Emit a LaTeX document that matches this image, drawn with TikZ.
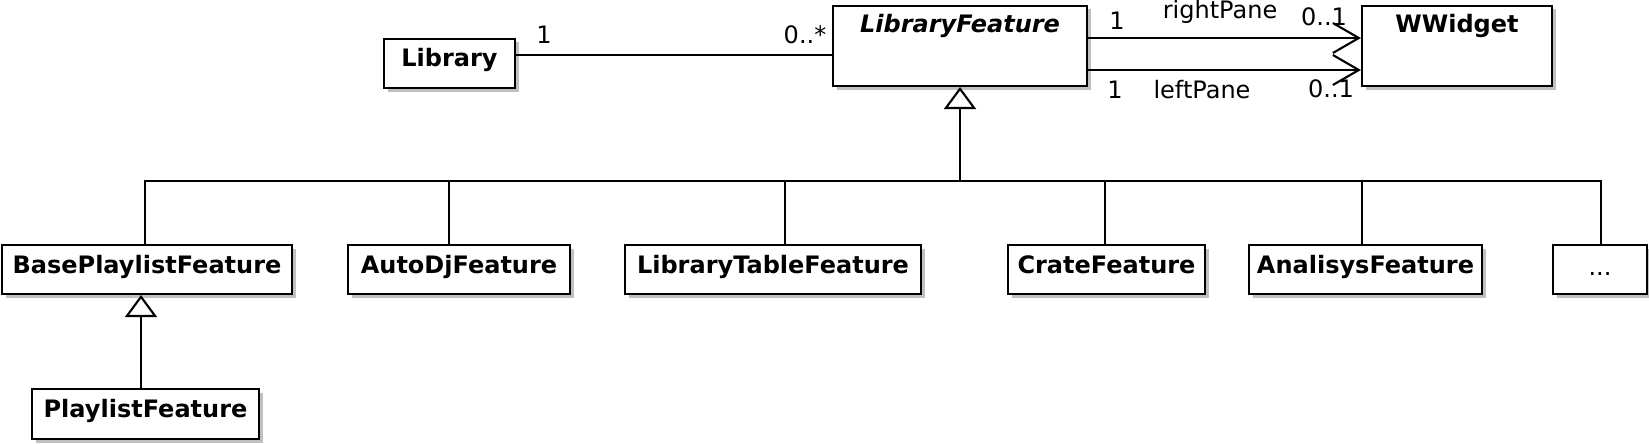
\documentclass[tikz,border=0pt]{standalone}
\usepackage{fontspec}
\setmainfont{DejaVu Sans}
\usetikzlibrary{arrows.meta,shadows,calc}
\begin{document}
\begin{tikzpicture}[x=1pt,y=-1pt,
  cls/.style={draw, line width=2.1pt, fill=white, inner sep=0pt,
    drop shadow={shadow xshift=3.5pt,shadow yshift=-3.5pt,fill=black!45,opacity=0.55}},
  ctext/.style={anchor=base, inner sep=0pt, font=\fontsize{24}{28}\selectfont\bfseries},
  mult/.style={anchor=base, inner sep=0pt, font=\fontsize{24}{28}\selectfont},
  conn/.style={line width=2.1pt},
  gen/.style={line width=2.1pt, -{Triangle[open,length=22pt,width=32pt,fill=white,line width=2.1pt]}},
  nav/.style={line width=2.1pt, -{Straight Barb[length=26pt,width=30pt,line width=2.1pt]}},
]
\useasboundingbox (0,0) rectangle (1649,444);

% classes
\node[cls, minimum width=131pt, minimum height=49pt] (lib) at (449.5,63.5) {};
\node[ctext] (libt) at ($(lib.north)+(0,29)$) {Library};
\node[cls, minimum width=254pt, minimum height=80pt] (lf) at (960,46) {};
\node[ctext] (lft) at ($(lf.north)+(0,28)$) {\itshape LibraryFeature};
\node[cls, minimum width=190pt, minimum height=80pt] (ww) at (1457,46) {};
\node[ctext] (wwt) at ($(ww.north)+(0,28)$) {WWidget};

\node[cls, minimum width=290pt, minimum height=49pt] (bpf) at (147,269.5) {};
\node[ctext] (bpft) at ($(bpf.north)+(0,29.5)$) {BasePlaylistFeature};
\node[cls, minimum width=222pt, minimum height=49pt] (adj) at (459,269.5) {};
\node[ctext] (adjt) at ($(adj.north)+(0,29.5)$) {AutoDjFeature};
\node[cls, minimum width=296pt, minimum height=49pt] (ltf) at (773,269.5) {};
\node[ctext] (ltft) at ($(ltf.north)+(0,29.5)$) {LibraryTableFeature};
\node[cls, minimum width=197pt, minimum height=49pt] (cf) at (1106.5,269.5) {};
\node[ctext] (cft) at ($(cf.north)+(0,29.5)$) {CrateFeature};
\node[cls, minimum width=233pt, minimum height=49pt] (af) at (1365.5,269.5) {};
\node[ctext] (aft) at ($(af.north)+(0,29.5)$) {AnalisysFeature};
\node[cls, minimum width=94pt, minimum height=49pt] (more) at (1600,269.5) {};
\node[mult] (moret) at ($(more.north)+(0,32)$) {...};

\node[cls, minimum width=227pt, minimum height=50pt] (pf) at (145.5,414) {};
\node[ctext] (pft) at ($(pf.north)+(0,29.5)$) {PlaylistFeature};

% association Library -- LibraryFeature
\draw[conn] (lib.east |- 0,55) -- (lf.west |- 0,55);
\node[mult] (m1) at (544,44) {1};
\node[mult] (m2) at (805,44) {0..*};

% navigable associations
\draw[nav] (lf.east |- 0,38) -- (ww.west |- 0,38);
\draw[nav] (lf.east |- 0,70) -- (ww.west |- 0,70);
\node[mult] (r1) at (1117,30) {1};
\node[mult] (rp) at (1220,19) {rightPane};
\node[mult] (r2) at (1324,26) {0..1};
\node[mult] (l1) at (1115,99) {1};
\node[mult] (lp) at (1202,99) {leftPane};
\node[mult] (l2) at (1331,97) {0..1};

% generalization tree
\coordinate (bus) at (960,181);
\draw[gen] (bus) -- (lf.south);
\draw[conn] (bpf.north -| 145,0) -- (145,181) -- (1601,181) -- (more.north -| 1601,0);
\draw[conn] (adj.north -| 449,0) -- (449,181);
\draw[conn] (ltf.north -| 785,0) -- (785,181);
\draw[conn] (cf.north -| 1105,0) -- (1105,181);
\draw[conn] (af.north -| 1362,0) -- (1362,181);
\draw[gen] (pf.north -| 141,0) -- (bpf.south -| 141,0);
\end{tikzpicture}
\end{document}
